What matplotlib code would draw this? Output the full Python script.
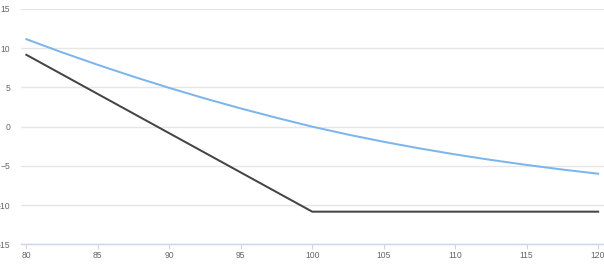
import matplotlib
matplotlib.use('Agg')
import matplotlib.pyplot as plt

# values
blue_x = [80, 82.5, 85, 87.5, 90, 92.5, 95, 97.5, 100,
          102.5, 105, 107.5, 110, 112.5, 115, 117.5, 120]
blue_y = [11.15, 9.47, 7.88, 6.37, 4.94, 3.59, 2.32, 1.13, 0.0,
          -1.01, -1.93, -2.77, -3.54, -4.24, -4.88, -5.47, -6.0]

black_x = [80, 100, 120]
black_y = [9.16, -10.84, -10.84]

x_ticks = [80, 85, 90, 95, 100, 105, 110, 115, 120]
y_ticks = [-15, -10, -5, 0, 5, 10, 15]

plt.rcParams['font.family'] = ['Liberation Sans', 'DejaVu Sans']

fig = plt.figure(figsize=(6.04, 2.70), dpi=100)
ax = fig.add_axes([20.5 / 604, (270 - 244.3) / 270, 1 - 20.5 / 604, (244.3 - 9) / 270])

ax.plot(black_x, black_y, color='#434348', linewidth=1.44, zorder=3)
ax.plot(blue_x, blue_y, color='#7cb5ec', linewidth=1.44, zorder=4)

ax.set_xlim(79.59, 120.41)
ax.set_ylim(-15, 15)
ax.set_xticks(x_ticks)
ax.set_yticks(y_ticks)

# horizontal grid only
ax.grid(axis='y', color='#e6e6e6', linewidth=1.0)
ax.set_axisbelow(True)

for side in ['left', 'right', 'top']:
    ax.spines[side].set_visible(False)
ax.spines['bottom'].set_color('#ccd6eb')
ax.spines['bottom'].set_linewidth(1.0)

ax.tick_params(axis='x', colors='#666666', labelsize=6.2, length=3.6,
               width=0.8, color='#ccd6eb', pad=1.5)
ax.tick_params(axis='y', colors='#666666', labelsize=6.2, length=0, pad=7.5)

fig.savefig('out.png', dpi=100)
